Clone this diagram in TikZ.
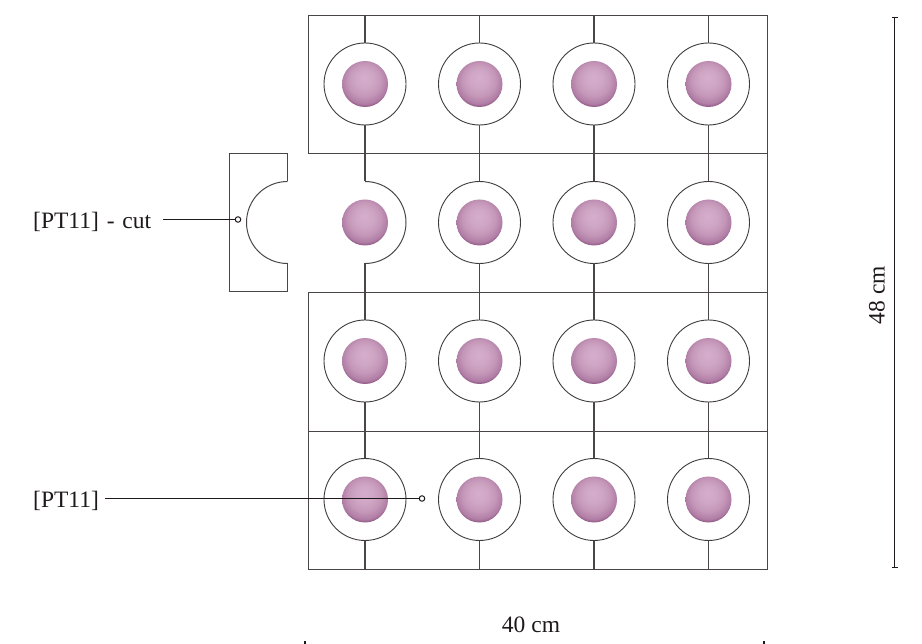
\documentclass[tikz,border=0pt]{standalone}
\usepackage{fontspec}
\setmainfont{Liberation Serif}
\definecolor{gridline}{HTML}{4A4648}
\definecolor{leader}{HTML}{1E1A1C}
\pgfdeclareradialshading{pinkball}{\pgfpoint{-1bp}{7bp}}{
  rgb(0bp)=(0.84,0.68,0.80);
  rgb(10bp)=(0.81,0.65,0.77);
  rgb(18bp)=(0.77,0.59,0.72);
  rgb(25bp)=(0.69,0.49,0.65);
  rgb(28bp)=(0.56,0.34,0.51);
  rgb(32bp)=(0.33,0.13,0.29);
  rgb(50bp)=(0.33,0.13,0.29)}
\tikzset{
  plate/.style={draw=gridline,line width=1pt},
  stub/.style={draw=gridline,line width=1.3pt},
  ringnode/.style={circle,draw=leader!85!white,line width=0.9pt,minimum size=82pt,inner sep=0pt,outer sep=0pt},
  ballnode/.style={circle,shading=pinkball,minimum size=46pt,inner sep=0pt,outer sep=0pt},
  lbl/.style={font=\fontsize{23.5}{27}\selectfont,text=leader,inner sep=0pt},
  pointer/.style={circle,draw=leader,fill=white,line width=1pt,minimum size=5.5pt,inner sep=0pt,outer sep=0pt},
  leaderline/.style={draw=leader,line width=1.1pt},
  dimline/.style={draw=leader,line width=1.1pt}
}
\begin{document}
\begin{tikzpicture}[x=1pt,y=-1pt]
\useasboundingbox (0,0) rectangle (922,644);
\fill[white] (0,0) rectangle (922,644);

% plates
\draw[plate] (308,15.3) rectangle (767,153.2);
\draw[plate] (308,292.2) rectangle (767,431.2);
\draw[plate] (308,431.2) rectangle (767,569.2);
\draw[plate] (365,153.2) -- (767,153.2) -- (767,292.2) -- (365,292.2);
\draw[stub] (365,153) -- (365,181.5);
\draw[stub] (365,263.5) -- (365,292);
\draw[plate] (365,181.5) arc[start angle=-90,end angle=90,radius=41];

% cut piece
\draw[plate] (287.5,181.5) -- (287.5,153.5) -- (229.5,153.5) -- (229.5,291.5) -- (287.5,291.5) -- (287.5,263.5);
\draw[plate] (287.5,181.5) arc[start angle=-90,end angle=-270,radius=41];

% rings, balls, stubs
\foreach \c/\x in {1/365,2/479.5,3/594,4/708.5}{
  \foreach \r/\y/\t/\b in {1/84/15/153,2/222.5/153/292,3/361/292/431,4/499.5/431/569}{
    \ifnum\c\r=12\relax\else
      \node[ringnode] (ring\c\r) at (\x,\y) {};
      \coordinate (top\c\r) at (\x,\t);
      \coordinate (bot\c\r) at (\x,\b);
      \draw[stub] (top\c\r) -- (ring\c\r.north);
      \draw[stub] (ring\c\r.south) -- (bot\c\r);
    \fi
    \node[ballnode] (ball\c\r) at (\x,\y) {};
  }
}

% labels and leaders
\node[lbl,anchor=west] (lcut) at (33,222) {[PT11]\hspace{2pt} - \hspace{2pt}cut};
\node[pointer] (pcut) at (238,219.5) {};
\coordinate (scut) at (163,219.5);
\draw[leaderline] (scut) -- (pcut.west);

\node[lbl,anchor=west] (lpt) at (33,501) {[PT11]};
\node[pointer] (ppt) at (422,498.5) {};
\coordinate (spt) at (105,498.5);
\draw[leaderline] (spt) -- (ppt.west);

% dimensions
\coordinate (h1) at (894.5,17.5);
\coordinate (h2) at (894.5,567.5);
\draw[dimline] (h1) -- (h2);
\draw[dimline] (891.5,17.5) -- (897.5,17.5);
\draw[dimline] (891.5,567.5) -- (897.5,567.5);
\node[lbl,rotate=90] (ldh) at (877,295) {48 cm};

\node[lbl] (ldw) at (531,625) {40 cm};
\draw[dimline] (305,641) -- (305,644);
\draw[dimline] (764,641) -- (764,644);
\end{tikzpicture}
\end{document}
